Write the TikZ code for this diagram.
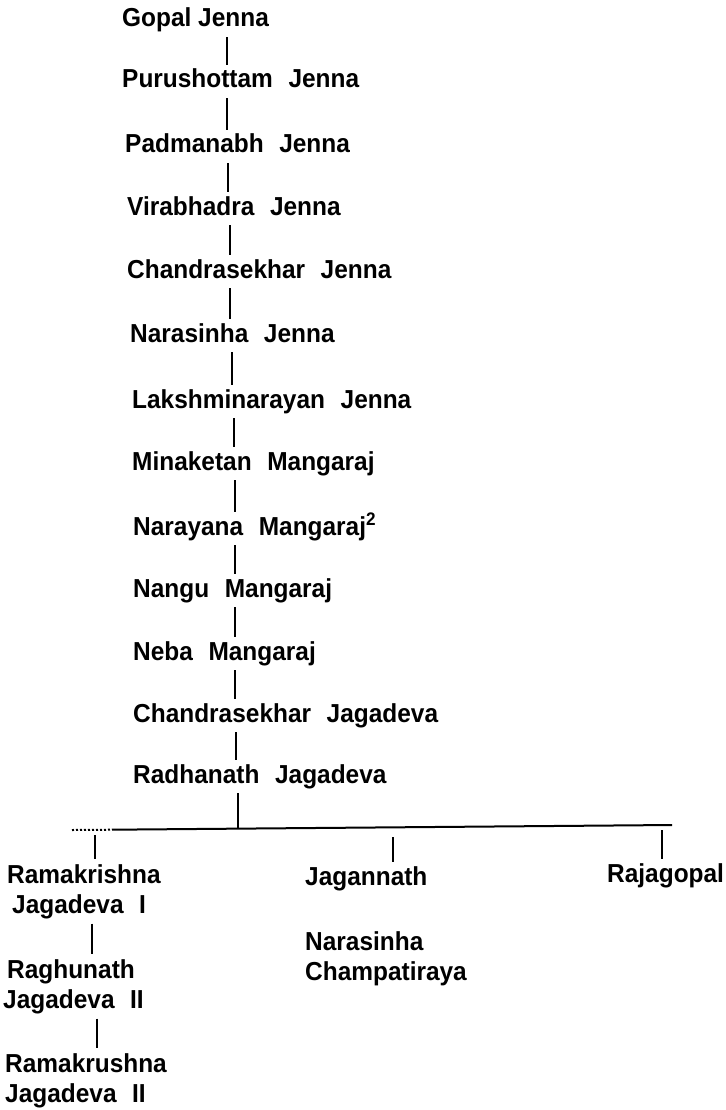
\documentclass[tikz,border=0pt]{standalone}
\usepackage{fontspec}
\setmainfont{Liberation Sans}[FakeStretch=0.94]
\newcommand\gap{\hspace{0.6em}}
\begin{document}
\begin{tikzpicture}[x=1pt,y=-1pt,
  person/.style={anchor=base west, inner xsep=0pt, inner ysep=5pt,
    font=\fontsize{26}{30}\selectfont\bfseries, text height=18pt, text depth=5pt},
  person2/.style={anchor=base west, inner xsep=0pt, inner ysep=5pt, align=left,
    font=\fontsize{26}{30}\selectfont\bfseries},
  link/.style={line width=2.8pt},
  bar/.style={line width=2pt},
]
\useasboundingbox[fill=white] (0,0) rectangle (725,1110);
% main line
\node[person] (n1)  at (122,27)  {Gopal Jenna};
\node[person] (n2)  at (122,88)  {Purushottam\gap Jenna};
\node[person] (n3)  at (125,153) {Padmanabh\gap Jenna};
\node[person] (n4)  at (127,215) {Virabhadra\gap Jenna};
\node[person] (n5)  at (127,278) {Chandrasekhar\gap Jenna};
\node[person] (n6)  at (130,342) {Narasinha\gap Jenna};
\node[person] (n7)  at (132,408) {Lakshminarayan\gap Jenna};
\node[person] (n8)  at (132,470) {Minaketan\gap Mangaraj};
\node[person] (n9)  at (133,535) {Narayana\gap Mangaraj\textsuperscript{2}};
\node[person] (n10) at (133,597) {Nangu\gap Mangaraj};
\node[person] (n11) at (133,660) {Neba\gap Mangaraj};
\node[person] (n12) at (133,722) {Chandrasekhar\gap Jagadeva};
\node[person] (n13) at (133,783) {Radhanath\gap Jagadeva};
% x positions of the vertical links
\coordinate (c1) at (227,0);
\coordinate (c2) at (227,0);
\coordinate (c3) at (228,0);
\coordinate (c4) at (230,0);
\coordinate (c5) at (230,0);
\coordinate (c6) at (232,0);
\coordinate (c7) at (234,0);
\coordinate (c8) at (235,0);
\coordinate (c9) at (235,0);
\coordinate (c10) at (235,0);
\coordinate (c11) at (235,0);
\coordinate (c12) at (236,0);
\draw[link] (n1.south -| c1) -- (n2.north -| c1);
\draw[link] (n2.south -| c2) -- (n3.north -| c2);
\draw[link] (n3.south -| c3) -- (n4.north -| c3);
\draw[link] (n4.south -| c4) -- (n5.north -| c4);
\draw[link] (n5.south -| c5) -- (n6.north -| c5);
\draw[link] (n6.south -| c6) -- (n7.north -| c6);
\draw[link] (n7.south -| c7) -- (n8.north -| c7);
\draw[link] (n8.south -| c8) -- (n9.north -| c8);
\draw[link] (n9.south -| c9) -- (n10.north -| c9);
\draw[link] (n10.south -| c10) -- (n11.north -| c10);
\draw[link] (n11.south -| c11) -- (n12.north -| c11);
\draw[link] (n12.south -| c12) -- (n13.north -| c12);
% children (base anchor = baseline of the last line)
\node[person2] (r1) at (7,913) {Ramakrishna\\\hspace*{5pt}Jagadeva\gap I};
\node[person2] (r2) at (7,1008) {Raghunath\\\hspace*{-4pt}Jagadeva\gap II};
\node[person2] (r3) at (5,1102) {Ramakrushna\\Jagadeva\gap II};
\node[person] (j1) at (305,885) {Jagannath};
\node[person2] (j2) at (305,980) {Narasinha\\Champatiraya};
\node[person] (k1) at (607,882) {Rajagopal};
% horizontal bar
\coordinate (hL) at (72,830);
\coordinate (hM) at (112,829.7);
\coordinate (hR) at (672,825);
\draw[bar, dotted] (hL) -- (hM);
\draw[bar] (hM) -- (hR);
\coordinate (t0) at (238,828);
\draw[link] (n13.south -| t0) -- (t0);
\coordinate (d1) at (95,835);
\coordinate (d2) at (393,837);
\coordinate (d3) at (662,830);
\draw[link] (d1) -- (r1.north -| d1);
\draw[link] (d2) -- (j1.north -| d2);
\draw[link] (d3) -- (k1.north -| d3);
\coordinate (e1) at (92,0);
\coordinate (e2) at (97,0);
\draw[link] (r1.south -| e1) -- (r2.north -| e1);
\draw[link] (r2.south -| e2) -- (r3.north -| e2);
\end{tikzpicture}
\end{document}
